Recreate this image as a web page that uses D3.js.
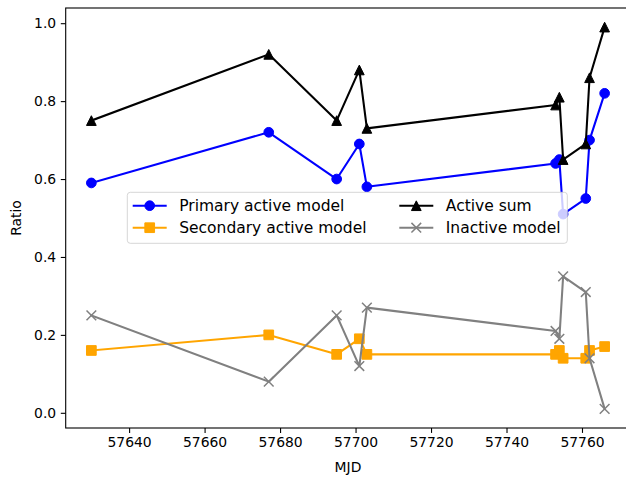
<!DOCTYPE html>
<html>
<head>
<meta charset="utf-8">
<script src="https://cdn.jsdelivr.net/npm/d3@7"></script>
<style>
  body { margin: 0; background: #fff; }
  svg { display: block; font-family: "DejaVu Sans", sans-serif; }
</style>
</head>
<body>
<div id="container"></div>
<script>
// Data
const mjd = [57630, 57677, 57695, 57701, 57703, 57753, 57754, 57755, 57761, 57762, 57766];
const primaryActive = [0.59, 0.72, 0.60, 0.69, 0.58, 0.64, 0.65, 0.51, 0.55, 0.70, 0.82];
const secondaryActive = [0.16, 0.20, 0.15, 0.19, 0.15, 0.15, 0.16, 0.14, 0.14, 0.16, 0.17];
const activeSum = [0.75, 0.92, 0.75, 0.88, 0.73, 0.79, 0.81, 0.65, 0.69, 0.86, 0.99];
const inactive = [0.25, 0.08, 0.25, 0.12, 0.27, 0.21, 0.19, 0.35, 0.31, 0.14, 0.01];
const xTicks = [57640, 57660, 57680, 57700, 57720, 57740, 57760];
const yTicks = [0.0, 0.2, 0.4, 0.6, 0.8, 1.0];

const series = [
    {name: "Primary active model", values: primaryActive, color: "#0000ff", marker: "circle"},
    {name: "Secondary active model", values: secondaryActive, color: "#ffa500", marker: "square"},
    {name: "Active sum", values: activeSum, color: "#000000", marker: "triangle"},
    {name: "Inactive model", values: inactive, color: "#808080", marker: "x"}
];

const width = 626;
const height = 477;
const marginLeft = 65.7;
const plotRight = 630.3;
const marginTop = 8;
const plotBottom = 428;
const ms = 9.7; // marker size in px

// matplotlib-style 5% padding on the data range
function padded(ext) {
    const pad = (ext[1] - ext[0]) * 0.05;
    return [ext[0] - pad, ext[1] + pad];
}
const allY = [].concat(primaryActive, secondaryActive, activeSum, inactive);

const x = d3.scaleLinear().domain(padded(d3.extent(mjd))).range([marginLeft, plotRight]);
const y = d3.scaleLinear().domain(padded(d3.extent(allY))).range([plotBottom, marginTop]);

const svg = d3.select("#container").append("svg")
    .attr("width", width)
    .attr("height", height);

svg.append("rect").attr("width", width).attr("height", height).attr("fill", "#fff");

function markerPath(type) {
    const h = ms / 2;
    if (type === "circle") return d3.symbol(d3.symbolCircle, Math.PI * h * h)();
    if (type === "square") return `M${-h},${-h}H${h}V${h}H${-h}Z`;
    if (type === "triangle") return `M0,${-h}L${h},${h}L${-h},${h}Z`;
    return `M${-h},${-h}L${h},${h}M${-h},${h}L${h},${-h}`;
}

function drawMarker(g, type, color) {
    g.append("path")
        .attr("d", markerPath(type))
        .attr("fill", type === "x" ? "none" : color)
        .attr("stroke", color)
        .attr("stroke-width", type === "x" ? 1.5 : 1);
}

const plot = svg.append("g");
const line = d3.line().x(d => x(d[0])).y(d => y(d[1]));

series.forEach(s => {
    const pts = mjd.map((m, i) => [m, s.values[i]]);
    const g = plot.append("g");
    g.append("path")
        .attr("d", line(pts))
        .attr("fill", "none")
        .attr("stroke", s.color)
        .attr("stroke-width", 2.08)
        .attr("stroke-linejoin", "round")
        .attr("stroke-linecap", "square");
    pts.forEach(p => {
        const mg = g.append("g").attr("transform", `translate(${x(p[0])},${y(p[1])})`);
        drawMarker(mg, s.marker, s.color);
    });
});

// Axes
const xAxis = svg.append("g")
    .attr("transform", `translate(0,${plotBottom})`)
    .call(d3.axisBottom(x).tickValues(xTicks).tickFormat(d3.format("d")).tickSize(4.9).tickPadding(4));
const yAxis = svg.append("g")
    .attr("transform", `translate(${marginLeft},0)`)
    .call(d3.axisLeft(y).tickValues(yTicks).tickFormat(d3.format(".1f")).tickSize(4.9).tickPadding(4.6));

[xAxis, yAxis].forEach(a => {
    a.select(".domain").remove();
    a.selectAll("line").attr("stroke", "#000").attr("stroke-width", 1.1);
    a.selectAll("text").attr("font-size", 13.9).attr("fill", "#000")
        .attr("font-family", "DejaVu Sans");
});

// Frame
svg.append("rect")
    .attr("x", marginLeft)
    .attr("y", marginTop)
    .attr("width", plotRight - marginLeft)
    .attr("height", plotBottom - marginTop)
    .attr("fill", "none")
    .attr("stroke", "#000")
    .attr("stroke-width", 1.1);

// Axis labels
svg.append("text")
    .attr("x", (marginLeft + plotRight) / 2)
    .attr("y", 472)
    .attr("text-anchor", "middle")
    .attr("font-size", 13.9)
    .text("MJD");
svg.append("text")
    .attr("transform", `translate(21,${(marginTop + plotBottom) / 2}) rotate(-90)`)
    .attr("text-anchor", "middle")
    .attr("font-size", 13.9)
    .text("Ratio");

// Legend
const legend = svg.append("g");
legend.append("rect")
    .attr("x", 127.3)
    .attr("y", 192.3)
    .attr("width", 440)
    .attr("height", 51)
    .attr("rx", 3)
    .attr("fill", "#fff")
    .attr("fill-opacity", 0.8)
    .attr("stroke", "#cccccc")
    .attr("stroke-opacity", 0.8)
    .attr("stroke-width", 1);

const colX = [132.7, 399.3];
const rowY = [205.7, 227.7];
series.forEach((s, i) => {
    const cx = colX[Math.floor(i / 2)];
    const cy = rowY[i % 2];
    const g = legend.append("g");
    g.append("line")
        .attr("x1", cx).attr("x2", cx + 34)
        .attr("y1", cy).attr("y2", cy)
        .attr("stroke", s.color)
        .attr("stroke-width", 2.08);
    const mg = g.append("g").attr("transform", `translate(${cx + 17},${cy})`);
    drawMarker(mg, s.marker, s.color);
    g.append("text")
        .attr("x", cx + 46.5)
        .attr("y", cy)
        .attr("dy", "0.36em")
        .attr("font-size", 15.5)
        .text(s.name);
});
</script>
</body>
</html>
